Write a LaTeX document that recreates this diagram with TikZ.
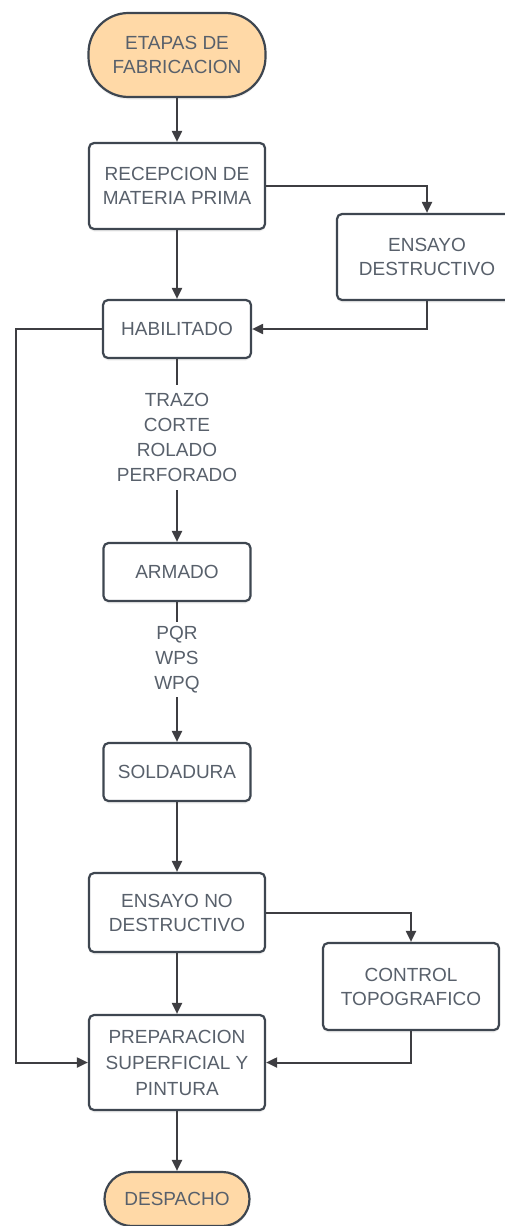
\documentclass[tikz,border=0pt]{standalone}
\usepackage{fontspec}
\setmainfont{Liberation Sans}
\usetikzlibrary{arrows.meta,shadows}

\definecolor{txtgray}{RGB}{88,96,107}
\definecolor{edgegray}{RGB}{62,70,80}
\definecolor{linegray}{RGB}{62,62,66}
\definecolor{peach}{RGB}{255,217,167}

\tikzset{
  base/.style={draw=edgegray, line width=2.2pt, align=center, text=txtgray,
    inner sep=0pt, font=\fontsize{19}{24}\selectfont,
    drop shadow={opacity=0.12, shadow xshift=0pt, shadow yshift=-2.5pt}},
  procbox/.style={base, fill=white, rounded corners=5pt},
  termbox/.style={base, fill=peach, rounded corners=27pt},
  steplabel/.style={align=center, text=txtgray, inner sep=0pt,
    font=\fontsize{19}{25}\selectfont},
  flow/.style={draw=linegray, line width=2pt,
    -{Triangle[length=11pt,width=10pt]}},
  plain/.style={draw=linegray, line width=2pt}
}

\begin{document}
\begin{tikzpicture}[x=1pt,y=-1pt]
\useasboundingbox (0,0) rectangle (505,1226);
\clip (0,0) rectangle (505,1226);

% main column of stages
\node[termbox, rounded corners=40pt, minimum width=177pt, minimum height=84pt] (start) at (177,55) {ETAPAS DE\\FABRICACION};
\node[procbox, minimum width=176pt, minimum height=86pt] (rec) at (177,186) {RECEPCION DE\\MATERIA PRIMA};
\node[procbox, minimum width=180pt, minimum height=86pt] (ed) at (427,257) {ENSAYO\\DESTRUCTIVO};
\node[procbox, minimum width=148pt, minimum height=58pt] (hab) at (177,329) {HABILITADO};
\node[steplabel, minimum height=105pt] (lab1) at (177,437.5) {TRAZO\\CORTE\\ROLADO\\PERFORADO};
\node[procbox, minimum width=147pt, minimum height=58pt] (arm) at (177,572) {ARMADO};
\node[steplabel, minimum height=75pt] (lab2) at (177,659.5) {PQR\\WPS\\WPQ};
\node[procbox, minimum width=147pt, minimum height=58pt] (sol) at (177,772) {SOLDADURA};
\node[procbox, minimum width=176pt, minimum height=79pt] (end) at (177,912.5) {ENSAYO NO\\DESTRUCTIVO};
\node[procbox, minimum width=176pt, minimum height=87pt] (ct) at (411,986.5) {CONTROL\\TOPOGRAFICO};
\node[procbox, minimum width=176pt, minimum height=95pt, font=\fontsize{19}{26}\selectfont] (prep) at (177,1062.5) {PREPARACION\\SUPERFICIAL Y\\PINTURA};
\node[termbox, minimum width=145pt, minimum height=54pt] (desp) at (177,1199) {DESPACHO};

\coordinate (loop) at (16,329);

% connectors
\draw[flow] (start) -- (rec);
\draw[flow] (rec) -- (hab);
\draw[flow] (rec.east) -| (ed.north);
\draw[flow] (ed.south) |- (hab.east);
\draw[plain] (hab) -- (lab1);
\draw[flow] (lab1) -- (arm);
\draw[plain] (arm) -- (lab2);
\draw[flow] (lab2) -- (sol);
\draw[flow] (sol) -- (end);
\draw[flow] (end) -- (prep);
\draw[flow] (end.east) -| (ct.north);
\draw[flow] (ct.south) |- (prep.east);
\draw[flow] (hab.west) -- (loop) |- (prep.west);
\draw[flow] (prep) -- (desp);
\end{tikzpicture}
\end{document}
